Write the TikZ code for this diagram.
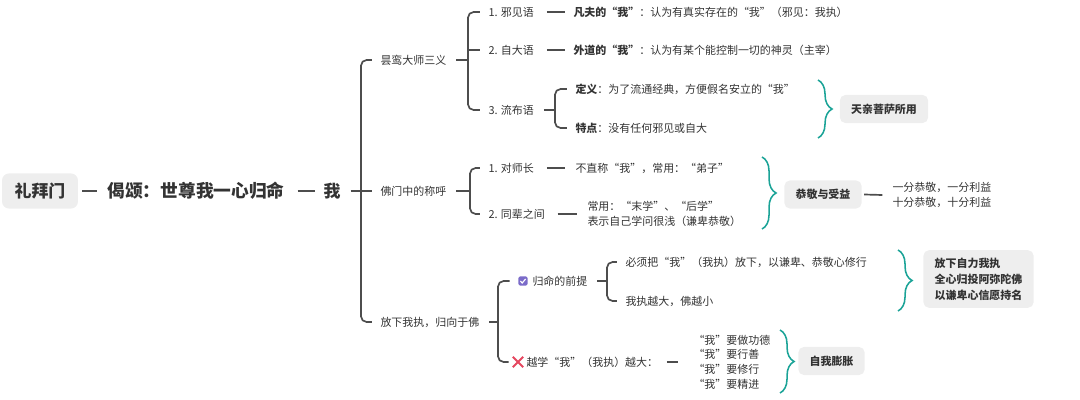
\documentclass[tikz,border=0pt]{standalone}
\usepackage{fontspec}
\setmainfont{Noto Sans CJK SC}
\usepackage{tikz}
\usetikzlibrary{calc,decorations.pathreplacing}

\definecolor{linegray}{HTML}{4D4D4D}
\definecolor{txtgray}{HTML}{333333}
\definecolor{braceteal}{HTML}{1BA397}
\definecolor{boxfill}{HTML}{EEEEEE}
\definecolor{chkpurple}{HTML}{7B6BC9}
\definecolor{crossred}{HTML}{E5475F}

\begin{document}
\begin{tikzpicture}[x=0.025cm, y=-0.025cm,
  txt/.style={anchor=west, inner xsep=3pt, inner ysep=1pt, text=txtgray, align=left, font=\fontsize{7.8}{10.5}\selectfont},
  big/.style={text=txtgray, inner xsep=3pt, font=\bfseries\fontsize{12}{14}\selectfont},
  tag/.style={fill=boxfill, rounded corners=4pt, text=txtgray, inner xsep=8pt, minimum height=20pt, align=left, font=\bfseries\fontsize{7.8}{11.4}\selectfont},
  link/.style={draw=linegray, line width=1.2pt},
  fork/.style={link, rounded corners=4pt},
  curly/.style={draw=braceteal, line width=1.1pt, decorate, decoration={brace, amplitude=10pt}}]
\useasboundingbox (0,0) rectangle (1080,400);

% root
\node[big, fill=boxfill, rounded corners=5pt, minimum width=54pt, minimum height=25pt] (root) at (40,191) {礼拜门};
\node[big, anchor=west, font=\bfseries\fontsize{12.6}{15}\selectfont] (jie) at (103,191) {偈颂：世尊我一心归命};
\node[big, anchor=west] (wo) at (319,191) {我};
\draw[link] ([xshift=3pt]root.east) -- ([xshift=-4pt]jie.west);
\draw[link] ([xshift=6pt]jie.east) -- ([xshift=-3pt]wo.west);

% first level
\node[txt] (tl) at (376,60) {昙鸾大师三义};
\node[txt] (fm) at (376,191) {佛门中的称呼};
\node[txt] (fx) at (376,322) {放下我执，归向于佛};
\coordinate (trunk) at (361,191);
\draw[fork] ([xshift=-3pt]tl.west) -| (trunk) |- ([xshift=-3pt]fx.west);
\draw[link] ([xshift=4pt]wo.east) -- ([xshift=-3pt]fm.west);

% three meanings
\node[txt] (s1) at (484,12) {1. 邪见语};
\node[txt] (s2) at (484,50) {2. 自大语};
\node[txt] (s3) at (484,110) {3. 流布语};
\coordinate (k1) at (468,60);
\draw[link] ([xshift=4pt]tl.east) -- (k1);
\draw[fork] ([xshift=-3pt]s1.west) -| (k1) |- ([xshift=-3pt]s3.west);
\draw[link] (k1 |- s2.west) -- ([xshift=-3pt]s2.west);

\node[txt] (d1) at (569,12) {\textbf{凡夫的“我”}：认为有真实存在的“我”（邪见：我执）};
\node[txt] (d2) at (569,50) {\textbf{外道的“我”}：认为有某个能控制一切的神灵（主宰）};
\draw[link] ([xshift=6pt]s1.east) -- ([xshift=-3pt]d1.west);
\draw[link] ([xshift=6pt]s2.east) -- ([xshift=-3pt]d2.west);

\node[txt] (e1) at (571,89) {\textbf{定义}：为了流通经典，方便假名安立的“我”};
\node[txt] (e2) at (571,128) {\textbf{特点}：没有任何邪见或自大};
\coordinate (k3) at (555,110);
\draw[link] ([xshift=4pt]s3.east) -- (k3);
\draw[fork] ([xshift=-3pt]e1.west) -| (k3) |- ([xshift=-3pt]e2.west);

\coordinate (br1a) at (818,80);
\coordinate (br1b) at (818,138);
\draw[curly] (br1a) -- (br1b);
\node[tag] (t1) at (884,109) {天亲菩萨所用};

% forms of address
\node[txt] (m1) at (484,168) {1. 对师长};
\node[txt] (m2) at (484,214) {2. 同辈之间};
\coordinate (k2) at (470,191);
\draw[link] ([xshift=4pt]fm.east) -- (k2);
\draw[fork] ([xshift=-3pt]m1.west) -| (k2) |- ([xshift=-3pt]m2.west);

\node[txt] (n1) at (571,168) {不直称“我”，常用：“弟子”};
\node[txt] (n2) at (583,214) {常用：“末学”、“后学”\\表示自己学问很浅（谦卑恭敬）};
\draw[link] ([xshift=6pt]m1.east) -- ([xshift=-4pt]n1.west);
\draw[link] ([xshift=6pt]m2.east) -- ([xshift=-4pt]n2.west);

\coordinate (br2a) at (762,157);
\coordinate (br2b) at (762,229);
\draw[curly] (br2a) -- (br2b);
\node[tag] (g1) at (823,194.5) {恭敬与受益};
\node[txt] (r1) at (888,195) {一分恭敬，一分利益\\十分恭敬，十分利益};
\draw[link] ([xshift=1.5pt]g1.east) -- ([xshift=-4pt]r1.west);

% letting go of self
\node[fill=chkpurple, rounded corners=1pt, minimum size=6.5pt, inner sep=0pt] (chk) at (523,281) {};
\draw[white, line width=0.8pt] ($(chk.center)+(-2.6,0)$) -- ($(chk.center)+(-0.8,2)$) -- ($(chk.center)+(2.6,-2)$);
\node[txt] (p1) at (528,281) {归命的前提};
\node[minimum size=7pt, inner sep=0pt] (crs) at (518,362) {};
\draw[crossred, line width=1.5pt] (crs.north west) -- (crs.south east) (crs.north east) -- (crs.south west);
\node[txt] (p2) at (522,362) {越学“我”（我执）越大：};
\coordinate (k4) at (498,322);
\draw[link] ([xshift=4pt]fx.east) -- (k4);
\draw[fork] ([xshift=-6pt]chk.west) -| (k4) |- ([xshift=-3pt]crs.west);

\node[txt] (q1) at (621,262) {必须把“我”（我执）放下，以谦卑、恭敬心修行};
\node[txt] (q2) at (621,301) {我执越大，佛越小};
\coordinate (k5) at (607,281);
\draw[link] ([xshift=4pt]p1.east) -- (k5);
\draw[fork] ([xshift=-3pt]q1.west) -| (k5) |- ([xshift=-3pt]q2.west);

\coordinate (br3a) at (898,250);
\coordinate (br3b) at (898,311);
\draw[curly] (br3a) -- (br3b);
\node[tag, minimum height=41pt] (h1) at (978.5,279) {放下自力我执\\全心归投阿弥陀佛\\以谦卑心信愿持名};

\node[txt] (u1) at (689,362) {“我”要做功德\\“我”要行善\\“我”要修行\\“我”要精进};
\draw[link] ([xshift=3pt]p2.east) -- ([xshift=-8pt]u1.west);
\coordinate (br4a) at (780,330);
\coordinate (br4b) at (780,393);
\draw[curly] (br4a) -- (br4b);
\node[tag] (z1) at (831.5,361) {自我膨胀};
\end{tikzpicture}
\end{document}
